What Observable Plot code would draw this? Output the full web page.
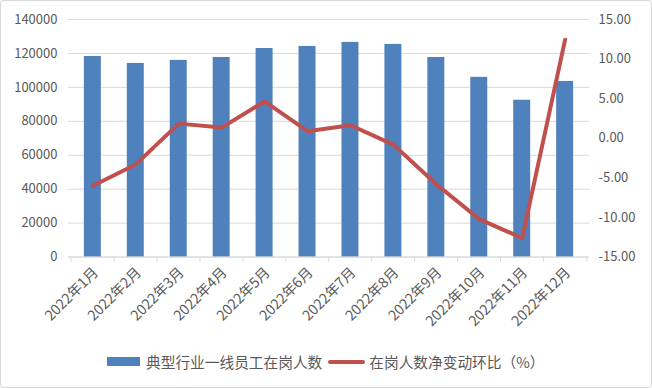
<!DOCTYPE html>
<html>
<head>
<meta charset="utf-8">
<script src="https://cdn.jsdelivr.net/npm/d3@7"></script>
<script src="https://cdn.jsdelivr.net/npm/@observablehq/plot@0.6"></script>
<style>
  html, body { margin: 0; padding: 0; background: #fff; }
  #wrap { position: relative; width: 652px; height: 388px; box-sizing: border-box;
          border: 1px solid #d9d9d9; border-radius: 3px; overflow: hidden;
          font-family: "Noto Sans CJK SC", "Noto Sans", sans-serif; }
  #chart { position: absolute; left: -1px; top: -1px; }
  #legend { position: absolute; left: 106px; top: 350px; display: flex; align-items: center;
            font-size: 14.7px; color: #595959; white-space: nowrap; }
  .sw-bar { width: 33px; height: 9px; background: #4f81bd; margin-right: 6px; }
  .sw-line { width: 37px; height: 4px; background: #c0504d; margin: 0 4px 0 6px; border-radius: 2px; }
</style>
</head>
<body>
<div id="wrap">
  <div id="chart"></div>
  <div id="legend"></div>
</div>
<script>
const months = ["2022年1月","2022年2月","2022年3月","2022年4月","2022年5月","2022年6月",
                "2022年7月","2022年8月","2022年9月","2022年10月","2022年11月","2022年12月"];
const workers = [118200, 114100, 115900, 117600, 122900, 124100, 126500, 125300, 117600, 105900, 92400, 103500];
const change = [-6.0, -3.3, 1.85, 1.35, 4.65, 0.9, 1.65, -0.8, -5.8, -10.2, -12.6, 12.45];
const leftTicks = [0, 20000, 40000, 60000, 80000, 100000, 120000, 140000];
const rightTicks = [-15, -10, -5, 0, 5, 10, 15];
const seriesNames = ["典型行业一线员工在岗人数", "在岗人数净变动环比（%）"];

const W = 652, H = 335, mL = 68, mR = 62, mT = 19, mB = H - 257;
const leftMax = 140000, rMin = -15, rMax = 15;
const toLeft = v => (v - rMin) / (rMax - rMin) * leftMax;
const step = (W - mL - mR) / months.length;

const data = months.map((m, i) => ({month: m, workers: workers[i], change: change[i]}));
const font = "Noto Sans CJK SC, Noto Sans, sans-serif";

const chart = Plot.plot({
  width: W, height: H,
  marginLeft: mL, marginRight: mR, marginTop: mT, marginBottom: mB,
  style: {fontFamily: font, fontSize: "13px", color: "#595959", background: "transparent"},
  x: {domain: months, type: "band", paddingInner: 0.6, paddingOuter: 0.3, axis: null},
  y: {domain: [0, leftMax], axis: null},
  marks: [
    Plot.gridY(leftTicks, {stroke: "#d9d9d9", strokeOpacity: 1}),
    Plot.barY(data, {x: "month", y: "workers", fill: "#4f81bd"}),
    Plot.ruleY([0], {stroke: "#d9d9d9", strokeOpacity: 1}),
    Plot.ruleX(months, {x: d => d, y1: 0, y2: 0, insetBottom: -5, dx: -step / 2, stroke: "#d9d9d9"}),
    Plot.ruleX(months.slice(-1), {x: d => d, y1: 0, y2: 0, insetBottom: -5, dx: step / 2, stroke: "#d9d9d9"}),
    Plot.lineY(data, {x: "month", y: d => toLeft(d.change), stroke: "#c0504d", strokeWidth: 4,
                      strokeLinejoin: "round", strokeLinecap: "round"}),
    Plot.axisY(leftTicks, {anchor: "left", tickSize: 0, tickPadding: 11, label: null,
                           tickFormat: d => String(d), fill: "#595959"}),
    Plot.axisY(rightTicks.map(toLeft), {anchor: "right", tickSize: 0, tickPadding: 9, label: null,
                           textAnchor: "start",
                           tickFormat: (d) => (d / leftMax * (rMax - rMin) + rMin).toFixed(2), fill: "#595959"}),
    Plot.axisX(months, {anchor: "bottom", tickSize: 0, tickPadding: 13, tickRotate: -45, label: null,
                        fill: "#595959", fontSize: 14.3, dx: 3})
  ]
});
document.getElementById("chart").appendChild(chart);

const legend = document.getElementById("legend");
legend.innerHTML = `<span class="sw-bar"></span><span>${seriesNames[0]}</span>` +
                   `<span class="sw-line"></span><span>${seriesNames[1]}</span>`;
</script>
</body>
</html>
